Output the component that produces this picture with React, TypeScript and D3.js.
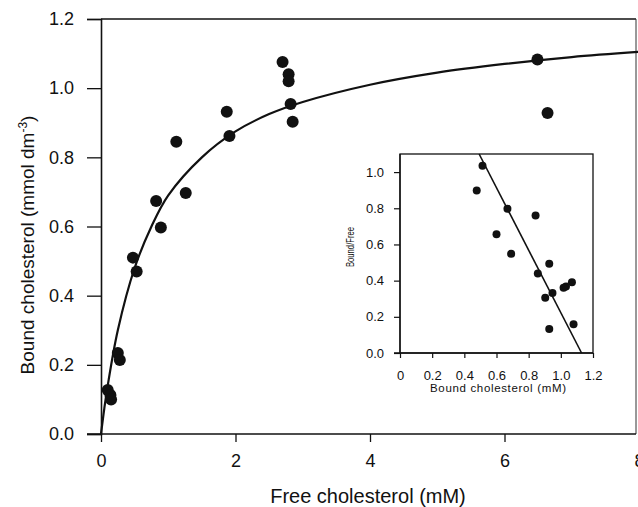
import React, { useEffect, useRef } from "react";
import * as d3 from "d3";

// main plot: free vs bound cholesterol
const freeChol = [0.1, 0.14, 0.15, 0.25, 0.28, 0.475, 0.53, 0.82, 0.89, 1.12, 1.26, 1.87, 1.91, 2.7, 2.79, 2.79, 2.82, 2.85, 6.49, 6.64];
const boundChol = [0.127, 0.113, 0.1, 0.234, 0.214, 0.51, 0.47, 0.674, 0.597, 0.845, 0.697, 0.932, 0.862, 1.076, 1.04, 1.02, 0.954, 0.903, 1.083, 0.928];

// fitted saturation curve
const fitX = [0, 0.05, 0.1, 0.25, 0.5, 0.75, 1, 1.5, 2, 2.5, 3, 4, 5, 6, 7, 8];
const fitY = [0, 0.075, 0.14, 0.3, 0.48, 0.6, 0.69, 0.8, 0.875, 0.925, 0.96, 1.01, 1.045, 1.07, 1.09, 1.105];

const mainXTicks = [0, 2, 4, 6, 8];
const mainYTicks = [0, 0.2, 0.4, 0.6, 0.8, 1.0, 1.2];

// inset: Scatchard plot
const insetBound = [0.513, 0.477, 0.668, 0.843, 0.6, 0.691, 0.928, 0.857, 1.069, 1.017, 1.032, 0.948, 0.903, 1.079, 0.928];
const insetRatio = [1.035, 0.898, 0.797, 0.76, 0.657, 0.548, 0.494, 0.439, 0.391, 0.361, 0.367, 0.332, 0.306, 0.159, 0.133];
const insetLineX = [0.492, 1.129];
const insetLineY = [1.1, 0];

const insetXTicks = [0, 0.2, 0.4, 0.6, 0.8, 1.0, 1.2];
const insetYTicks = [0, 0.2, 0.4, 0.6, 0.8, 1.0];

const W = 638;
const H = 507;
const FONT = "'Liberation Sans', Arial, Helvetica, sans-serif";

const App: React.FC = () => {
  const ref = useRef<SVGSVGElement | null>(null);

  useEffect(() => {
    if (!ref.current) return;
    const svg = d3.select(ref.current);
    svg.selectAll("*").remove();

    // ---- main chart ----
    const x = d3.scaleLinear().domain([0, 8]).range([101, 639]);
    const y = d3.scaleLinear().domain([0, 1.2]).range([434, 19]);

    const g = svg.append("g").attr("font-family", FONT);

    // frame top/right
    g.append("line")
      .attr("x1", x(0)).attr("x2", 636)
      .attr("y1", y(1.2)).attr("y2", y(1.2))
      .attr("stroke", "#111").attr("stroke-width", 1.5);
    g.append("line")
      .attr("x1", 636).attr("x2", 636)
      .attr("y1", y(1.2)).attr("y2", y(0))
      .attr("stroke", "#333").attr("stroke-width", 1);

    const xAxis = g.append("g")
      .attr("transform", `translate(0,${y(0)})`)
      .call(d3.axisBottom(x).tickValues(mainXTicks).tickFormat(d3.format("d")).tickSize(8).tickPadding(12));
    const yAxis = g.append("g")
      .attr("transform", `translate(${x(0)},0)`)
      .call(d3.axisLeft(y).tickValues(mainYTicks).tickFormat(d3.format(".1f")).tickSize(14).tickPadding(13));

    [xAxis, yAxis].forEach((ax) => {
      ax.select(".domain").attr("stroke", "#111").attr("stroke-width", 1.6);
      ax.selectAll(".tick line").attr("stroke", "#111").attr("stroke-width", 1.3);
      ax.selectAll("text").attr("font-size", 18).attr("font-family", FONT).attr("fill", "#111");
    });
    // x axis extends a bit left of 0
    xAxis.select(".domain").attr("d", `M${x(0) - 14},0H636`);

    const fitData = fitX.map((v, i) => [v, fitY[i]] as [number, number]);
    g.append("path")
      .datum(fitData)
      .attr("fill", "none")
      .attr("stroke", "#111")
      .attr("stroke-width", 2.2)
      .attr("d", d3.line<[number, number]>()
        .x((d) => x(d[0]))
        .y((d) => y(d[1]))
        .curve(d3.curveCatmullRom.alpha(0.5)));

    g.selectAll("circle.main")
      .data(freeChol.map((v, i) => [v, boundChol[i]]))
      .enter()
      .append("circle")
      .attr("class", "main")
      .attr("cx", (d) => x(d[0]))
      .attr("cy", (d) => y(d[1]))
      .attr("r", 6)
      .attr("fill", "#111");

    g.append("text")
      .attr("x", 368).attr("y", 503)
      .attr("text-anchor", "middle")
      .attr("font-size", 20)
      .attr("fill", "#111")
      .text("Free cholesterol (mM)");

    const yt = g.append("text")
      .attr("transform", `translate(34,245) rotate(-90)`)
      .attr("text-anchor", "middle")
      .attr("font-size", 19)
      .attr("fill", "#111");
    yt.append("tspan").text("Bound cholesterol (mmol dm");
    yt.append("tspan").attr("dy", -7).attr("font-size", 12).text("-3");
    yt.append("tspan").attr("dy", 7).text(")");

    // ---- inset ----
    const ix = d3.scaleLinear().domain([0, 1.2]).range([400, 593]);
    const iy = d3.scaleLinear().domain([0, 1.1]).range([353, 154]);
    const ig = svg.append("g").attr("font-family", FONT);

    ig.append("rect")
      .attr("x", ix(0)).attr("y", iy(1.1))
      .attr("width", ix(1.2) - ix(0)).attr("height", iy(0) - iy(1.1))
      .attr("fill", "none").attr("stroke", "#111").attr("stroke-width", 1.3);

    const ixAxis = ig.append("g")
      .attr("transform", `translate(0,${iy(0)})`)
      .call(d3.axisBottom(ix).tickValues(insetXTicks)
        .tickFormat((d) => (d === 0 ? "0" : d3.format(".1f")(d as number)))
        .tickSize(5).tickPadding(13));
    const iyAxis = ig.append("g")
      .attr("transform", `translate(${ix(0)},0)`)
      .call(d3.axisLeft(iy).tickValues(insetYTicks).tickFormat(d3.format(".1f")).tickSize(6).tickPadding(10));

    [ixAxis, iyAxis].forEach((ax) => {
      ax.select(".domain").attr("stroke", "#111").attr("stroke-width", 1.3);
      ax.selectAll(".tick line").attr("stroke", "#111").attr("stroke-width", 1.2);
      ax.selectAll("text").attr("font-size", 13).attr("font-family", FONT).attr("fill", "#111");
    });
    iyAxis.select(".domain").attr("d", `M0,${iy(1.1)}V${iy(0)}`);
    ixAxis.select(".domain").attr("d", `M${ix(0) - 6},0H${ix(1.2)}`);

    ig.append("line")
      .attr("x1", ix(insetLineX[0])).attr("y1", iy(insetLineY[0]))
      .attr("x2", ix(insetLineX[1])).attr("y2", iy(insetLineY[1]))
      .attr("stroke", "#111").attr("stroke-width", 1.6);

    ig.selectAll("circle.inset")
      .data(insetBound.map((v, i) => [v, insetRatio[i]]))
      .enter()
      .append("circle")
      .attr("class", "inset")
      .attr("cx", (d) => ix(d[0]))
      .attr("cy", (d) => iy(d[1]))
      .attr("r", 4)
      .attr("fill", "#111");

    ig.append("text")
      .attr("x", 498).attr("y", 392)
      .attr("text-anchor", "middle")
      .attr("font-size", 11.5)
      .attr("textLength", 136)
      .attr("lengthAdjust", "spacing")
      .attr("fill", "#111")
      .text("Bound cholesterol (mM)");

    ig.append("text")
      .attr("transform", `translate(354,247) rotate(-90)`)
      .attr("text-anchor", "middle")
      .attr("font-size", 10)
      .attr("textLength", 40)
      .attr("lengthAdjust", "spacingAndGlyphs")
      .attr("fill", "#111")
      .text("Bound/Free");
  }, []);

  return (
    <svg
      ref={ref}
      width={W}
      height={H}
      style={{ position: "absolute", left: 0, top: 0, background: "#fff" }}
    ></svg>
  );
};

export default App;
